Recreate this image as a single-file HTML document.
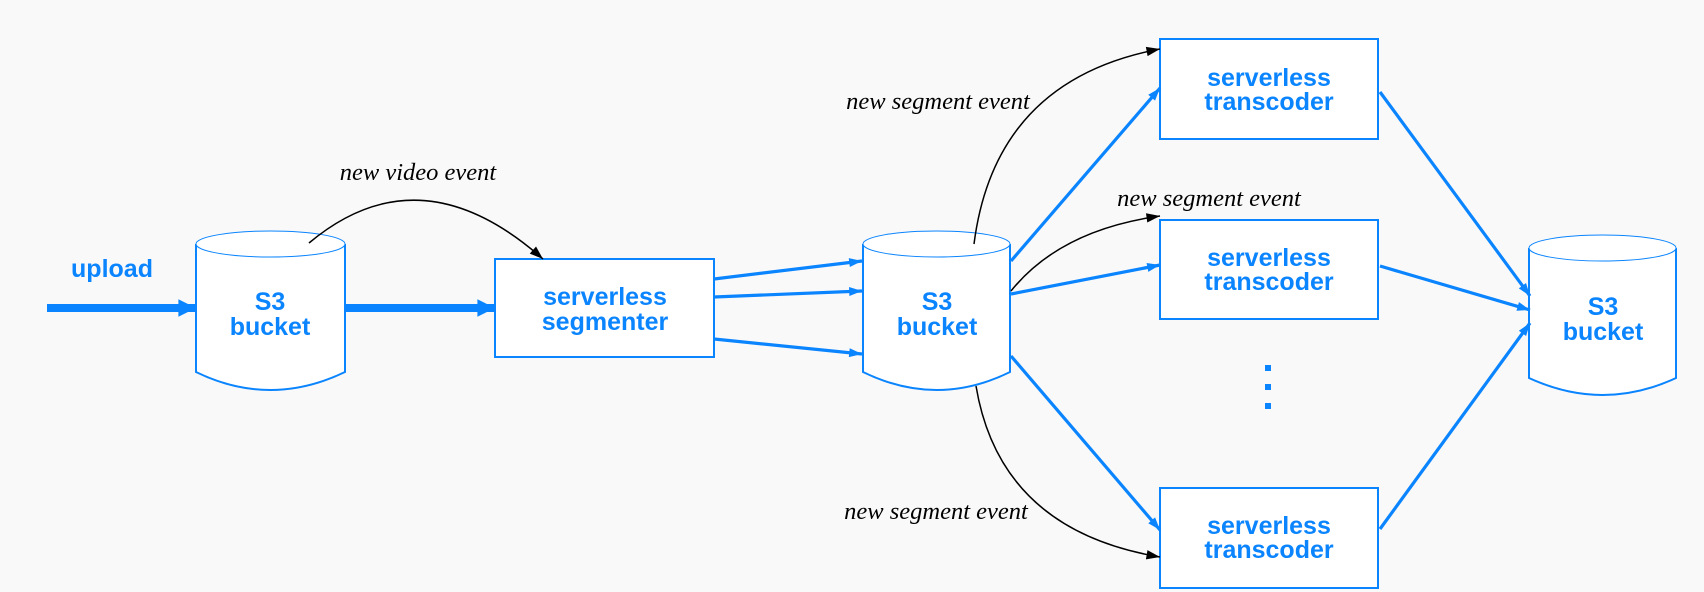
<!DOCTYPE html>
<html><head><meta charset="utf-8"><style>
html,body{margin:0;padding:0;background:#f9f9f9;}
svg{display:block}
.b{font-family:"Liberation Sans",sans-serif;font-weight:bold;font-size:25px;fill:#0a84ff;text-anchor:middle}
.l{font-family:"Liberation Serif",serif;font-style:italic;font-size:24.5px;fill:#000}
</style></head><body>
<svg width="1704" height="592" viewBox="0 0 1704 592" xmlns="http://www.w3.org/2000/svg">
<defs>
<marker id="ab" viewBox="0 0 10 10" refX="10" refY="5" markerWidth="6" markerHeight="4" orient="auto" markerUnits="strokeWidth"><path d="M0,1.5 L10,5 L0,8.5z" fill="#0a84ff"/></marker>
<marker id="abt" viewBox="0 0 10 10" refX="10" refY="5" markerWidth="2.6" markerHeight="2.2" orient="auto" markerUnits="strokeWidth"><path d="M0,0 L10,5 L0,10z" fill="#0a84ff"/></marker>
<marker id="ak" viewBox="0 0 10 10" refX="10" refY="5" markerWidth="16" markerHeight="9" orient="auto" markerUnits="strokeWidth"><path d="M0,1.5 L10,5 L0,8.5z" fill="#000"/></marker>
</defs>
<rect width="1704" height="592" fill="#f9f9f9"/>
<g fill="#fff" stroke="#0a84ff" stroke-width="2">
<path d="M196,244 L196,372 Q270,408 345,372 L345,244"/>
<ellipse cx="270.5" cy="244" rx="74.5" ry="13" stroke-width="1"/>
<path d="M863,244 L863,372 Q937,408 1010,372 L1010,244"/>
<ellipse cx="936.5" cy="244" rx="73.5" ry="13" stroke-width="1"/>
<path d="M1529,248 L1529,378 Q1603,412 1676,378 L1676,248"/>
<ellipse cx="1602.5" cy="248" rx="73.5" ry="13" stroke-width="1"/>
<rect x="495" y="259" width="219" height="98"/>
<rect x="1160" y="39" width="218" height="100"/>
<rect x="1160" y="220" width="218" height="99"/>
<rect x="1160" y="488" width="218" height="100"/>
</g>
<g stroke="#0a84ff" fill="none">
<line x1="47" y1="308" x2="196" y2="308" stroke-width="8" marker-end="url(#abt)"/>
<line x1="345" y1="308" x2="495" y2="308" stroke-width="8" marker-end="url(#abt)"/>
<g stroke-width="3.2" marker-end="url(#ab)">
<line x1="714" y1="279" x2="862" y2="261"/>
<line x1="714" y1="297" x2="862" y2="291"/>
<line x1="714" y1="339" x2="862" y2="354"/>
<line x1="1011" y1="261" x2="1160" y2="88"/>
<line x1="1011" y1="294" x2="1160" y2="265"/>
<line x1="1011" y1="356" x2="1160" y2="530"/>
<line x1="1380" y1="92" x2="1530" y2="296"/>
<line x1="1380" y1="266" x2="1530" y2="310"/>
<line x1="1380" y1="529" x2="1530" y2="323"/>
</g>
</g>
<g stroke="#000" stroke-width="1.5" fill="none" marker-end="url(#ak)">
<path d="M309,243 Q420,150 543,259"/>
<path d="M974,244 Q995,80 1160,49"/>
<path d="M1011,291 Q1060,230 1160,216"/>
<path d="M976,386 Q1000,530 1160,557"/>
</g>
<g fill="#0a84ff"><rect x="1265" y="365" width="6" height="6"/><rect x="1265" y="384" width="6" height="6"/><rect x="1265" y="403" width="6" height="6"/></g>
<text class="b" x="112" y="277">upload</text>
<text class="b" x="270" y="310">S3</text><text class="b" x="270" y="335">bucket</text>
<text class="b" x="937" y="310">S3</text><text class="b" x="937" y="335">bucket</text>
<text class="b" x="1603" y="315">S3</text><text class="b" x="1603" y="340">bucket</text>
<text class="b" x="605" y="305">serverless</text><text class="b" x="605" y="330">segmenter</text>
<text class="b" x="1269" y="86">serverless</text><text class="b" x="1269" y="110">transcoder</text>
<text class="b" x="1269" y="266">serverless</text><text class="b" x="1269" y="290">transcoder</text>
<text class="b" x="1269" y="534">serverless</text><text class="b" x="1269" y="558">transcoder</text>
<text class="l" x="418" y="180" text-anchor="middle">new video event</text>
<text class="l" x="938" y="109" text-anchor="middle">new segment event</text>
<text class="l" x="1209" y="206" text-anchor="middle">new segment event</text>
<text class="l" x="936" y="519" text-anchor="middle">new segment event</text>
</svg>
</body></html>
